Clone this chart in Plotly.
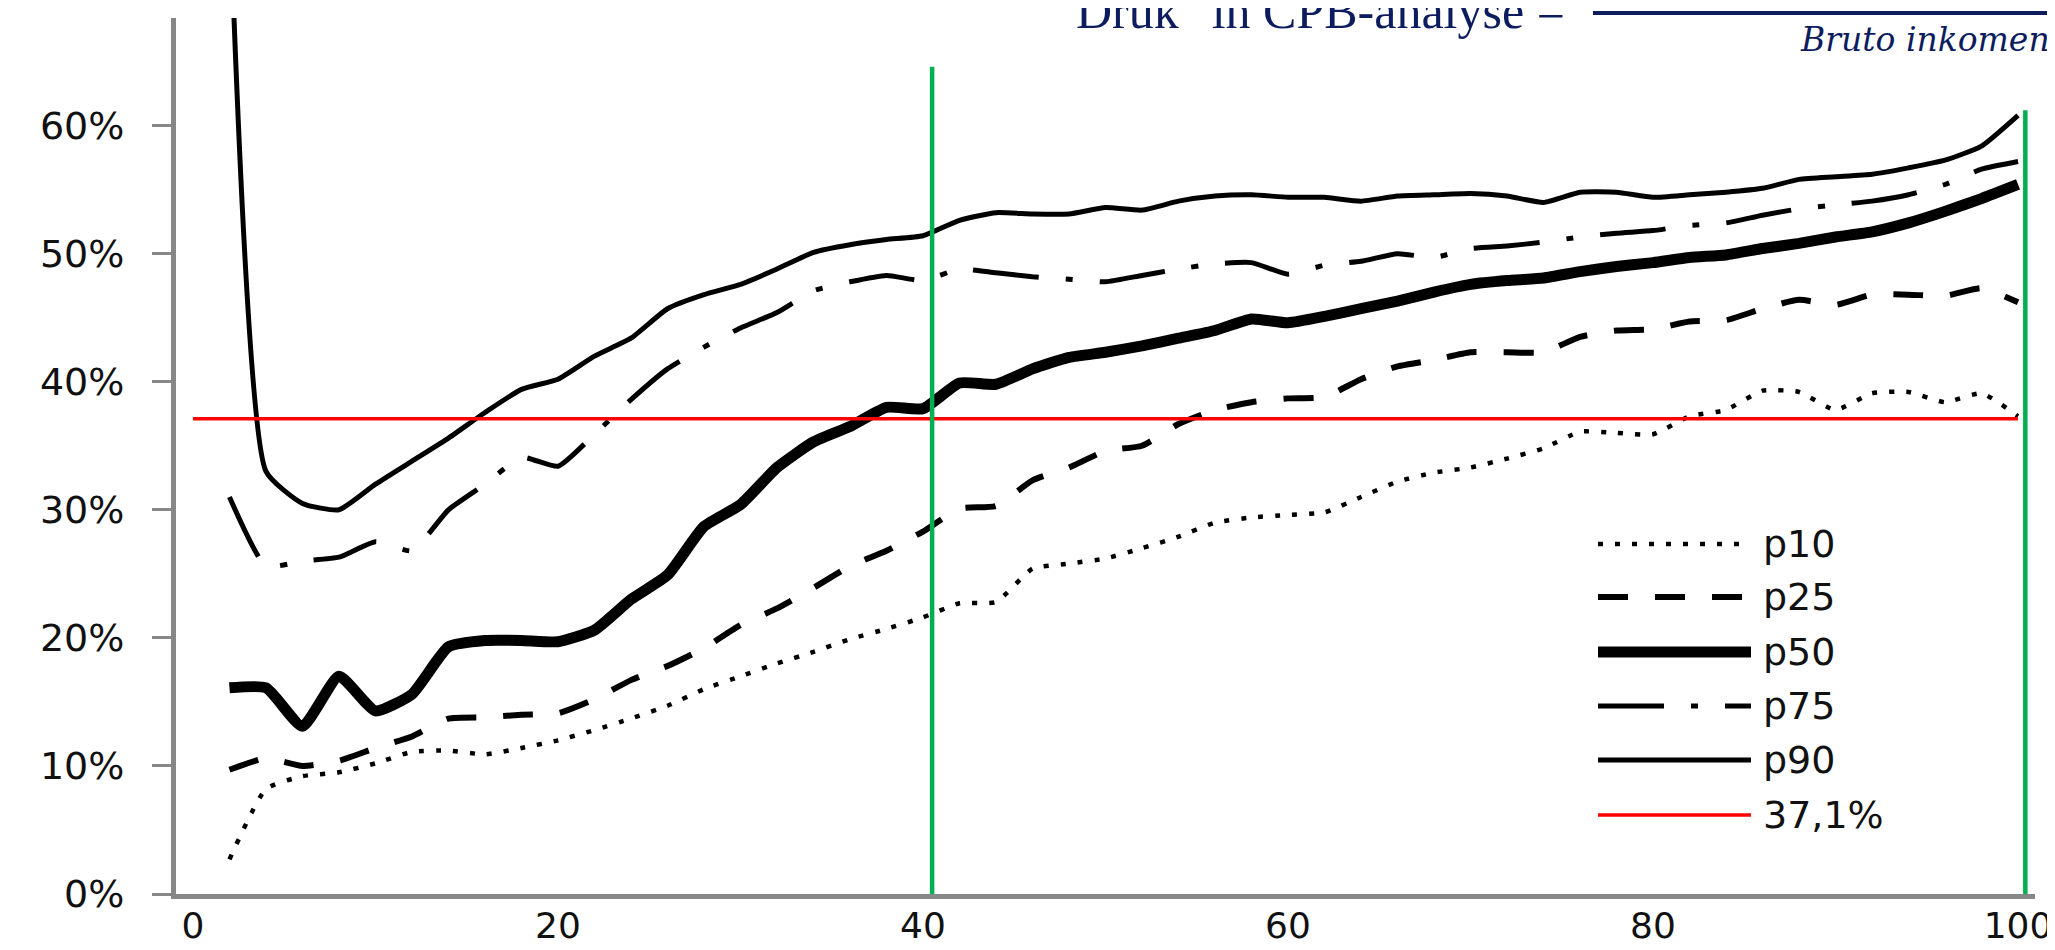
import plotly.graph_objects as go

# ---------------- data ----------------
x_cat = [2, 4, 6, 8, 10, 12, 14, 16, 18, 20,
         22, 24, 26, 28, 30, 32, 34, 36, 38, 40,
         42, 44, 46, 48, 50, 52, 54, 56, 58, 60,
         62, 64, 66, 68, 70, 72, 74, 76, 78, 80,
         82, 84, 86, 88, 90, 92, 94, 96, 98, 100]

p10 = [2.7, 8.2, 9.2, 9.5, 10.2, 11.1, 11.2, 10.9, 11.4, 12.0,
       12.8, 13.7, 14.7, 16.0, 17.0, 18.0, 18.9, 19.9, 20.7, 21.6,
       22.7, 22.8, 25.4, 25.8, 26.2, 27.0, 27.9, 29.0, 29.4, 29.6,
       29.8, 31.0, 32.2, 32.9, 33.3, 34.0, 34.8, 36.1, 36.0, 35.9,
       37.3, 37.8, 39.3, 39.2, 37.8, 39.1, 39.2, 38.4, 39.1, 37.3]

p25 = [9.7, 10.6, 10.0, 10.4, 11.4, 12.3, 13.7, 13.8, 14.0, 14.1,
       15.2, 16.7, 17.8, 19.2, 21.0, 22.3, 23.9, 25.6, 26.8, 28.3,
       30.1, 30.3, 32.3, 33.3, 34.6, 35.0, 36.7, 37.8, 38.4, 38.7,
       38.8, 40.2, 41.2, 41.7, 42.3, 42.3, 42.3, 43.5, 44.0, 44.1,
       44.7, 44.8, 45.7, 46.4, 46.0, 46.8, 46.8, 46.7, 47.3, 46.2]

p50 = [16.1, 16.1, 13.1, 17.0, 14.3, 15.6, 19.3, 19.8, 19.8, 19.7,
       20.6, 23.0, 24.9, 28.7, 30.4, 33.3, 35.3, 36.5, 38.0, 37.9,
       39.9, 39.8, 41.0, 41.9, 42.3, 42.8, 43.4, 44.0, 44.9, 44.6,
       45.1, 45.7, 46.3, 47.0, 47.6, 47.9, 48.1, 48.6, 49.0, 49.3,
       49.7, 49.9, 50.4, 50.8, 51.3, 51.7, 52.4, 53.3, 54.3, 55.4]

p75 = [31.0, 25.6, 26.0, 26.3, 27.5, 26.8, 30.0, 32.0, 34.1, 33.4,
       35.9, 38.6, 41.0, 42.7, 44.2, 45.4, 47.1, 47.8, 48.3, 47.9,
       48.8, 48.5, 48.2, 48.0, 47.8, 48.3, 48.8, 49.2, 49.3, 48.4,
       49.1, 49.4, 50.0, 49.7, 50.4, 50.6, 50.9, 51.3, 51.6, 51.8,
       52.2, 52.4, 53.0, 53.5, 53.8, 54.1, 54.6, 55.4, 56.6, 57.2]

p90 = [78.0, 33.0, 30.5, 30.0, 32.0, 33.8, 35.6, 37.6, 39.4, 40.2,
       42.0, 43.4, 45.7, 46.8, 47.6, 48.8, 50.1, 50.7, 51.1, 51.4,
       52.6, 53.2, 53.1, 53.1, 53.6, 53.4, 54.1, 54.5, 54.6, 54.4,
       54.4, 54.1, 54.5, 54.6, 54.7, 54.5, 54.0, 54.8, 54.8, 54.4,
       54.6, 54.8, 55.1, 55.8, 56.0, 56.2, 56.7, 57.3, 58.4, 60.8]

threshold_x = [0, 100]
threshold_value = 37.1            # percent
threshold_label = "37,1%"

green_x = [40.5, 100.4]           # vertical reference lines
green_top = [64.6, 61.2]          # percent

series_names = ["p10", "p25", "p50", "p75", "p90"]
x_ticks = [0, 20, 40, 60, 80, 100]

title_left = 'Druk" in CPB-analyse ='
title_denominator = "Bruto inkomen"

# ---------------- layout geometry ----------------
W, H = 2055, 950
L, R, T, B = 168, 28, 10, 64
PW, PH = W - L - R, H - T - B


def px(xp):
    return (xp - L) / PW


def py(yp):
    return (H - B - yp) / PH


NAVY = "#0c1c5e"
AXIS_GRAY = "#878787"
FONT = "DejaVu Sans"
TXT = "#111111"

styles = {
    "p10": dict(color="black", width=4.5, dash="5px,12px"),
    "p25": dict(color="black", width=6, dash="30px,27px"),
    "p50": dict(color="black", width=11, dash="solid"),
    "p75": dict(color="black", width=5, dash="66px,27px,7px,27px"),
    "p90": dict(color="black", width=5, dash="solid"),
}
values = {"p10": p10, "p25": p25, "p50": p50, "p75": p75, "p90": p90}

fig = go.Figure()
for name in series_names:
    fig.add_trace(go.Scatter(
        x=x_cat, y=[v / 100 for v in values[name]], mode="lines", name=name,
        line=dict(**styles[name], shape="spline", smoothing=0.5),
        showlegend=False, hoverinfo="skip"))

fig.add_trace(go.Scatter(
    x=threshold_x, y=[threshold_value / 100] * len(threshold_x), mode="lines",
    name=threshold_label, line=dict(color="#ff0000", width=3.5),
    showlegend=False, hoverinfo="skip"))

shapes = []
for gx, gt in zip(green_x, green_top):
    shapes.append(dict(type="line", xref="x", yref="y", x0=gx, x1=gx, y0=0, y1=gt / 100,
                       line=dict(color="#00b050", width=4.5)))

# manual legend (long sample lines like the original)
legend_rows = [536, 589, 644, 698, 752, 807]
legend_styles = [styles[n] for n in series_names] + [dict(color="#ff0000", width=3.5, dash="solid")]
legend_labels = series_names + [threshold_label]
annotations = []
for yrow, st, lab in zip(legend_rows, legend_styles, legend_labels):
    shapes.append(dict(type="line", xref="paper", yref="paper",
                       x0=px(1590), x1=px(1743), y0=py(yrow), y1=py(yrow),
                       line=dict(color=st["color"], width=st["width"], dash=st.get("dash", "solid"))))
    annotations.append(dict(xref="paper", yref="paper", x=px(1753), y=py(yrow),
                            xanchor="left", yanchor="middle", showarrow=False, text=lab,
                            font=dict(family=FONT, size=38, color=TXT)))

# formula header (partially cut at top, as in original)
annotations.append(dict(xref="paper", yref="paper", x=px(1066), y=py(-27),
                        xanchor="left", yanchor="top", showarrow=False, text=title_left,
                        font=dict(family="Liberation Serif", size=50, color=NAVY)))
shapes.append(dict(type="line", xref="paper", yref="paper", x0=px(1585), x1=px(2070),
                   y0=py(5), y1=py(5), line=dict(color=NAVY, width=4)))
annotations.append(dict(xref="paper", yref="paper", x=px(1790), y=py(10),
                        xanchor="left", yanchor="top", showarrow=False,
                        text="<i>" + title_denominator + "</i>",
                        font=dict(family="DejaVu Serif", size=33, color=NAVY)))

fig.update_layout(
    width=W, height=H,
    margin=dict(l=L, r=R, t=T, b=B, pad=0),
    paper_bgcolor="white", plot_bgcolor="white",
    showlegend=False,
    shapes=shapes, annotations=annotations,
    xaxis=dict(range=[-0.93, 100.93], tickvals=x_ticks, ticktext=[str(v) for v in x_ticks],
               showgrid=False, zeroline=False, showline=True, linecolor=AXIS_GRAY, linewidth=5,
               ticks="", ticklabelstandoff=-4, automargin=False,
               tickfont=dict(family=FONT, size=36, color=TXT)),
    yaxis=dict(range=[0, 0.684], dtick=0.1, tick0=0, tickformat=".0%",
               showgrid=False, zeroline=False, showline=True, linecolor=AXIS_GRAY, linewidth=5,
               ticks="outside", ticklen=19, tickwidth=3, tickcolor=AXIS_GRAY,
               ticklabelstandoff=20, automargin=False,
               tickfont=dict(family=FONT, size=38, color=TXT)),
)

fig.write_html("out.html")
